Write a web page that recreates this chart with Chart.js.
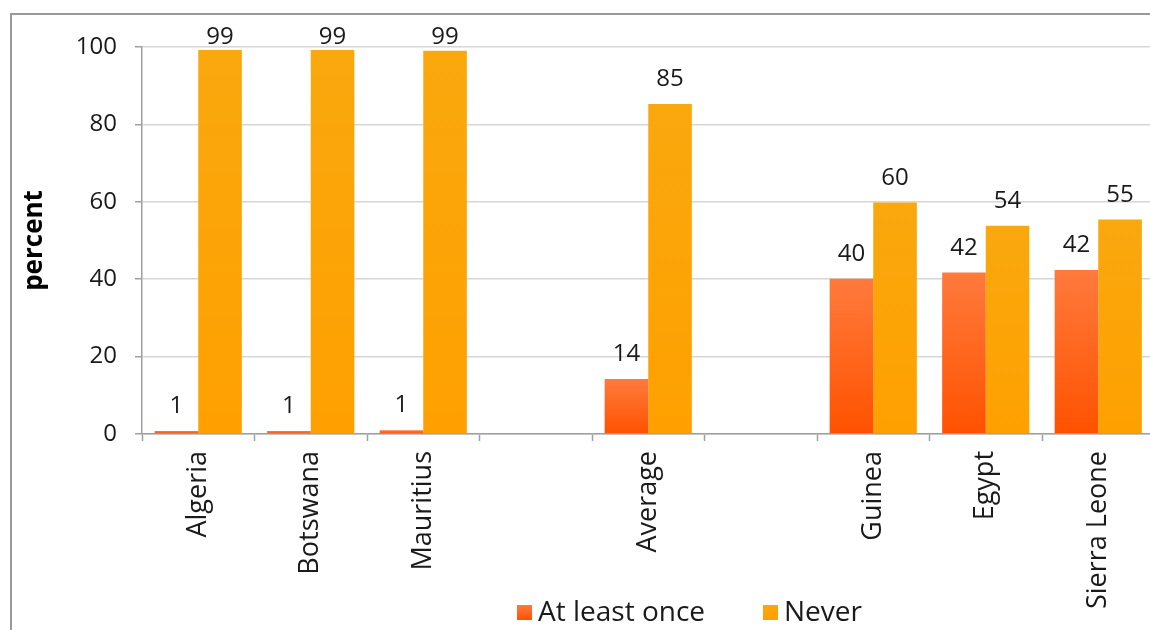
<!DOCTYPE html>
<html>
<head>
<meta charset="utf-8">
<script src="https://cdn.jsdelivr.net/npm/chart.js@4.4.1/dist/chart.umd.min.js"></script>
<style>
	html, body { margin: 0; padding: 0; background: #fff; overflow: hidden; }
	#frame { position: absolute; left: 10px; top: 13px; width: 1400px; height: 700px; border: 2px solid #9a9a9a; }
	#wrap { position: absolute; left: 0; top: 0; width: 1160px; height: 630px; }
</style>
</head>
<body>
<div id="frame"></div>
<div id="wrap"><canvas id="surveyChart"></canvas></div>
<script>
let countries = ['Algeria', 'Botswana', 'Mauritius', '', 'Average', '', 'Guinea', 'Egypt', 'Sierra Leone'];
let atLeastOnce = [0.8, 0.8, 1.0, null, 14.2, null, 40.1, 41.7, 42.4];
let never = [99.2, 99.2, 99.0, null, 85.3, null, 59.8, 53.8, 55.4];
let yTicks = [0, 20, 40, 60, 80, 100];

const fontFamily = "'Open Sans', 'DejaVu Sans', sans-serif";
const textColor = '#1a1a1a';

// vertical gradient per bar, lighter on top
function barGradient(topColor, bottomColor) {
	return function (context) {
		const chart = context.chart;
		if (!chart.chartArea || context.type !== 'data' || context.raw == null) return bottomColor;
		const y = chart.scales.y.getPixelForValue(context.raw);
		const base = chart.scales.y.getPixelForValue(0);
		if (!isFinite(y) || base - y < 1) return bottomColor;
		const g = chart.ctx.createLinearGradient(0, y, 0, base);
		g.addColorStop(0, topColor);
		g.addColorStop(1, bottomColor);
		return g;
	};
}

// value labels over the bars
const valueLabels = {
	id: 'valueLabels',
	afterDatasetsDraw(chart) {
		const ctx = chart.ctx;
		ctx.save();
		ctx.font = '24px ' + fontFamily;
		ctx.fillStyle = textColor;
		ctx.textAlign = 'center';
		ctx.textBaseline = 'alphabetic';
		chart.data.datasets.forEach(function (ds, i) {
			chart.getDatasetMeta(i).data.forEach(function (bar, j) {
				const v = ds.data[j];
				if (v == null) return;
				const y = Math.max(bar.y - 18, chart.chartArea.top - 3);
				ctx.fillText(String(Math.round(v)), bar.x, y);
			});
		});
		ctx.restore();
	}
};

// legend drawn over the bottom of the frame, like the original
const bottomLegend = {
	id: 'bottomLegend',
	afterDraw(chart) {
		const ctx = chart.ctx;
		const items = [
			{ x: 517, top: '#ff7a3c', bottom: '#ff5200' },
			{ x: 763, top: '#f9a80e', bottom: '#ffa000' }
		];
		ctx.save();
		ctx.font = '28px ' + fontFamily;
		ctx.fillStyle = textColor;
		ctx.textBaseline = 'alphabetic';
		chart.data.datasets.forEach(function (ds, i) {
			const it = items[i];
			const g = ctx.createLinearGradient(0, 605, 0, 620);
			g.addColorStop(0, it.top);
			g.addColorStop(1, it.bottom);
			ctx.fillStyle = g;
			ctx.fillRect(it.x, 605, 15, 15);
			ctx.fillStyle = textColor;
			ctx.fillText(ds.label, it.x + 21, 621);
		});
		ctx.restore();
	}
};

var ctx = document.getElementById('surveyChart').getContext('2d');
var surveyChart = new Chart(ctx, {
	type: 'bar',
	data: {
		labels: countries,
		datasets: [{
			label: 'At least once',
			data: atLeastOnce,
			backgroundColor: barGradient('#ff7a3c', '#ff5200'),
			categoryPercentage: 0.775,
			barPercentage: 1.0
		}, {
			label: 'Never',
			data: never,
			backgroundColor: barGradient('#f9a80e', '#ffa000'),
			categoryPercentage: 0.775,
			barPercentage: 1.0
		}]
	},
	options: {
		responsive: true,
		maintainAspectRatio: false,
		animation: false,
		layout: { padding: { left: 10, top: 47, right: 5.5, bottom: 0 } },
		plugins: {
			legend: { display: false },
			tooltip: { enabled: false }
		},
		scales: {
			x: {
				grid: {
					offset: true,
					drawOnChartArea: false,
					tickLength: 7,
					tickColor: '#a0a0a0',
					tickWidth: 1.5
				},
				border: { color: '#a0a0a0', width: 1.5 },
				ticks: {
					autoSkip: false,
					minRotation: 90,
					maxRotation: 90,
					padding: 10,
					color: textColor,
					font: { size: 27, family: fontFamily }
				},
				afterFit: function (scale) { scale.height = 196; }
			},
			y: {
				min: 0,
				max: 100,
				afterBuildTicks: function (scale) {
					scale.ticks = yTicks.map(function (v) { return { value: v }; });
				},
				grid: {
					color: '#d6d6d6',
					lineWidth: 1.5,
					tickLength: 7,
					tickColor: '#a0a0a0',
					tickWidth: 1.5
				},
				border: { color: '#a0a0a0', width: 1.5 },
				ticks: {
					padding: 18,
					color: textColor,
					font: { size: 24, family: fontFamily }
				},
				title: {
					display: true,
					text: 'percent',
					color: '#000',
					padding: { top: 9, bottom: 0 },
					font: { size: 26, weight: 'bold', family: fontFamily }
				},
				afterFit: function (scale) { scale.width = 132; }
			}
		}
	},
	plugins: [valueLabels, bottomLegend]
});

function resizeChart() {
	surveyChart.resize();
}

window.addEventListener('resize', resizeChart);
</script>
</body>
</html>
